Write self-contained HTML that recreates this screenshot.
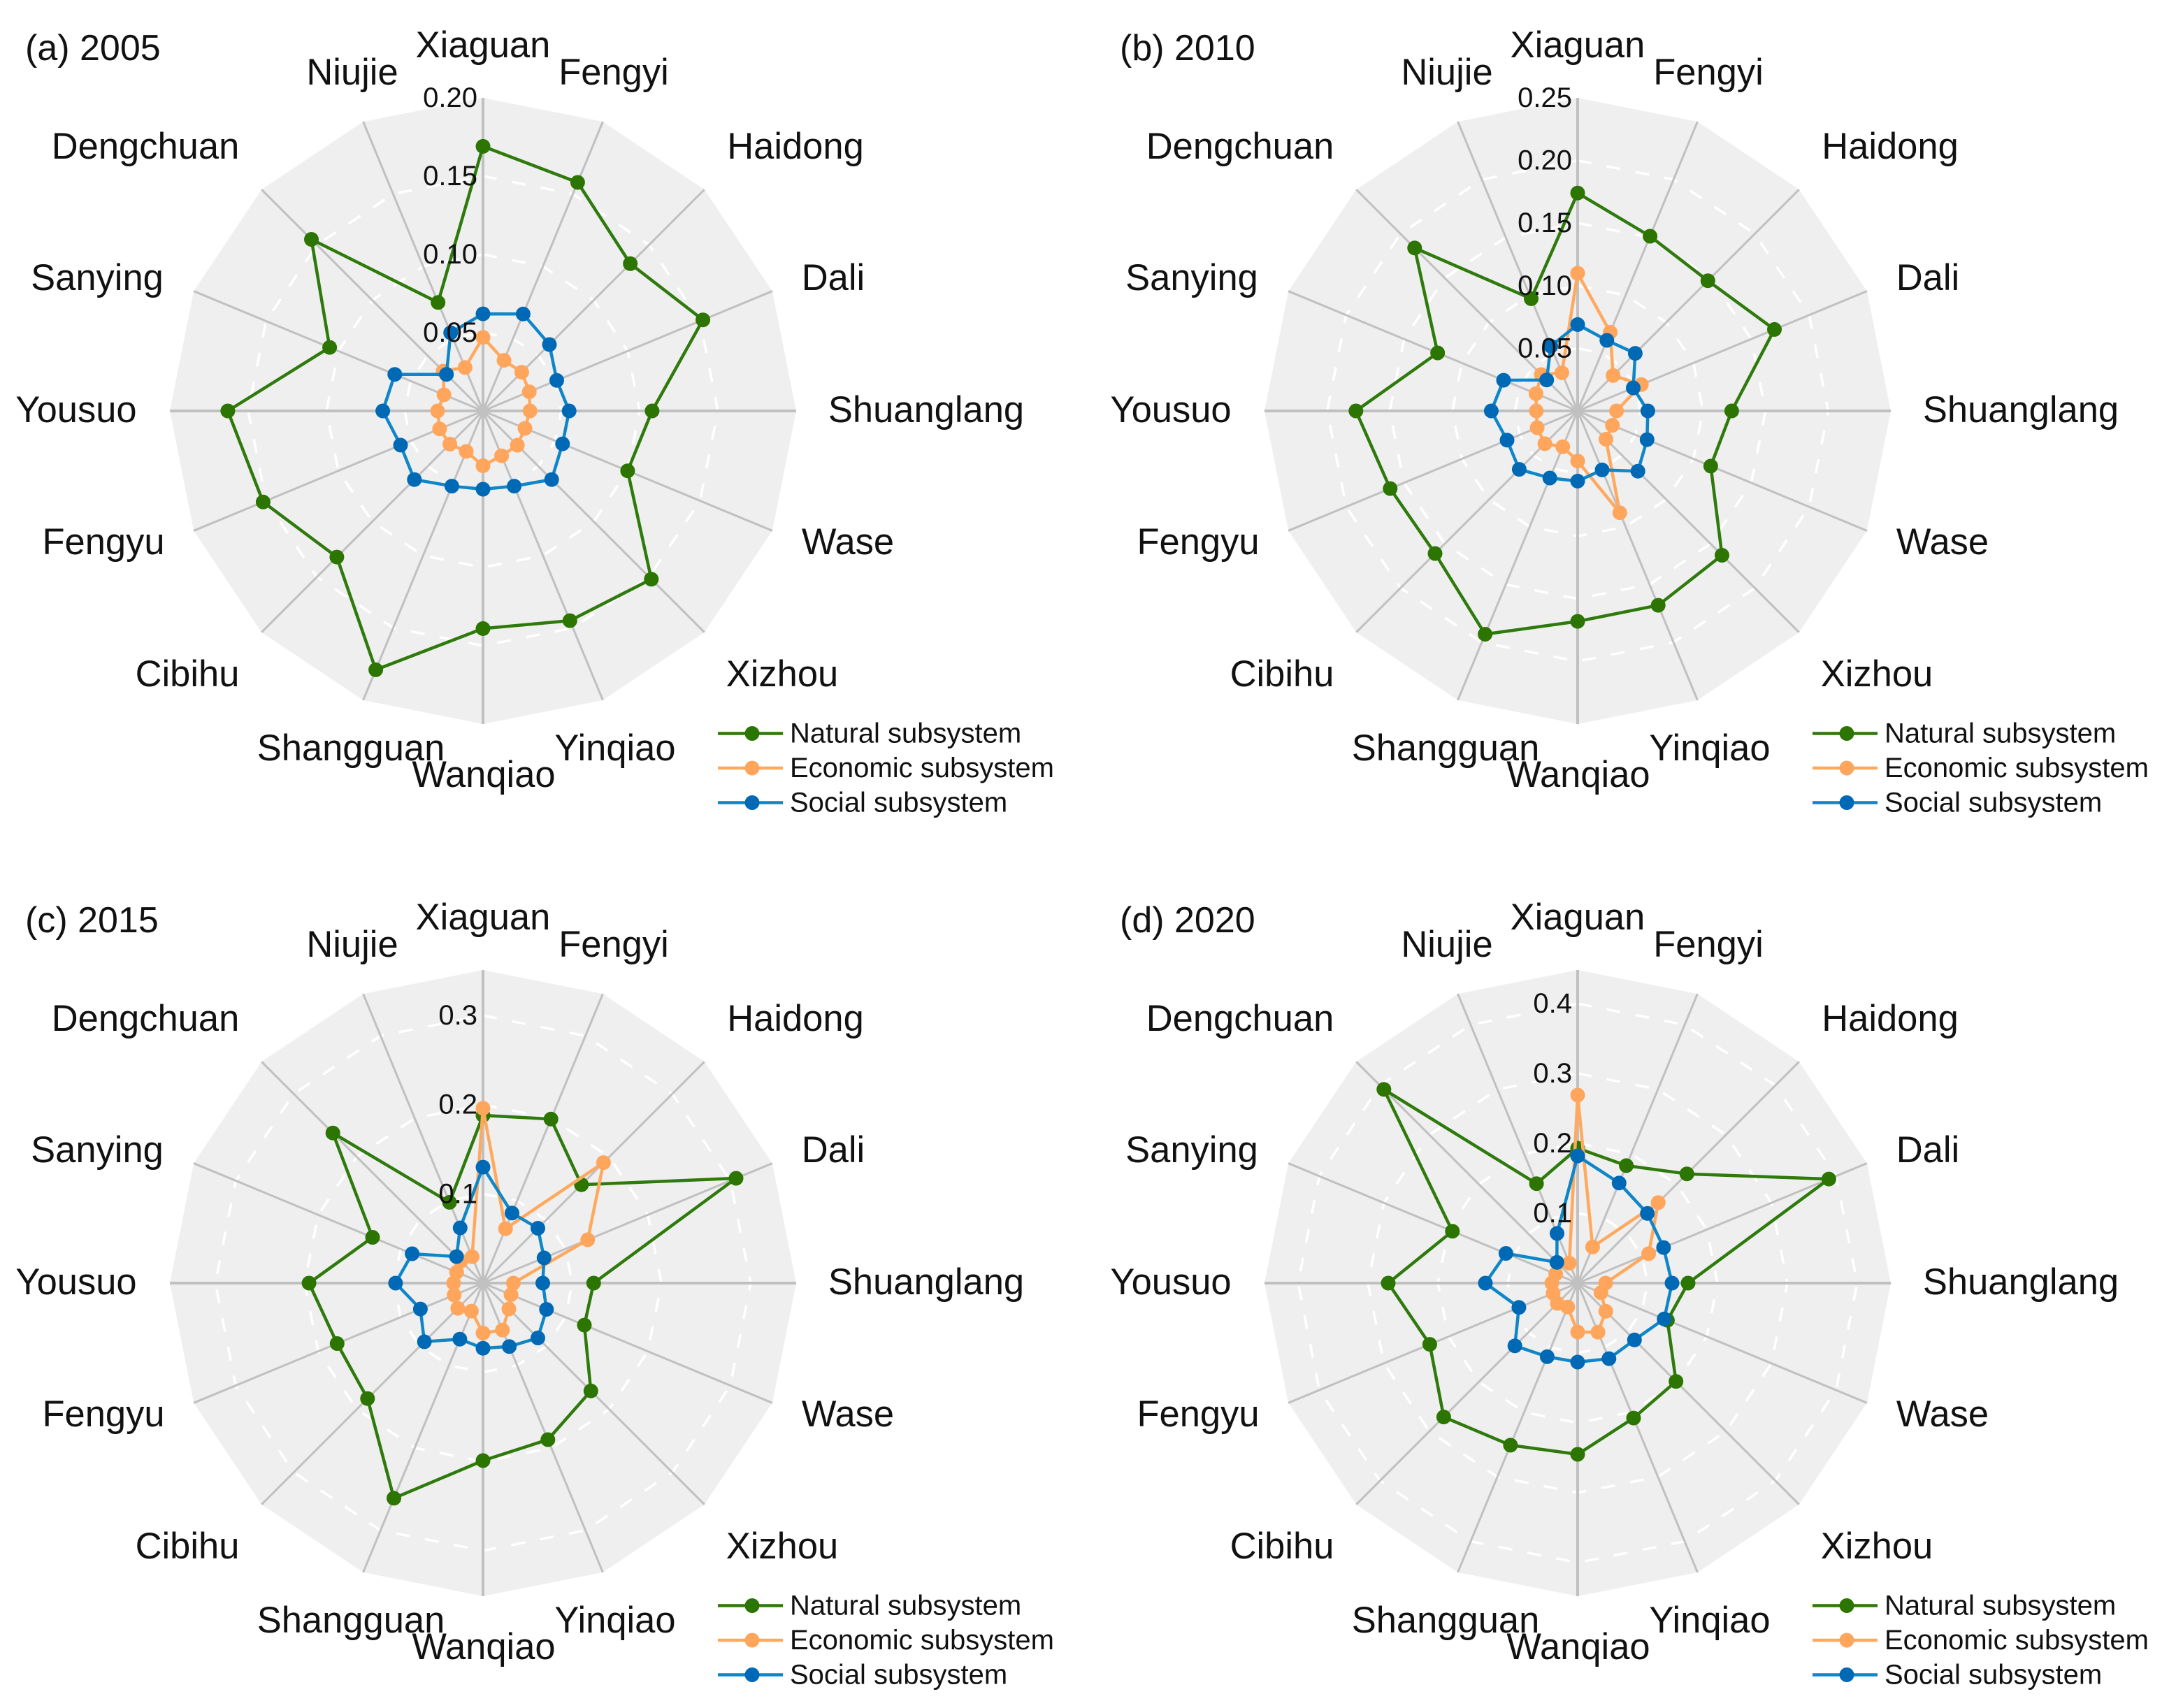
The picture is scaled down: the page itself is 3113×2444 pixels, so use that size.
<!DOCTYPE html>
<html lang="en">
<head>
<meta charset="utf-8">
<title>Subsystem radar charts 2005–2020</title>
<style>
html,body{margin:0;padding:0;background:#fff}
svg{display:block}
text{font-family:"Liberation Sans",Arial,sans-serif;fill:#111}
</style>
</head>
<body>
<svg id="chart" xmlns="http://www.w3.org/2000/svg" width="3113" height="2444" viewBox="0 0 3113 2444"></svg>
<script>
const towns = ["Xiaguan","Fengyi","Haidong","Dali","Shuanglang","Wase","Xizhou","Yinqiao","Wanqiao","Shangguan","Cibihu","Fengyu","Yousuo","Sanying","Dengchuan","Niujie"];
const seriesNames = ["Natural subsystem","Economic subsystem","Social subsystem"];

const natural2005 = [.169,.158,.133,.152,.108,.100,.152,.145,.139,.179,.132,.152,.163,.106,.155,.075];
const economic2005 = [.047,.035,.035,.032,.030,.029,.031,.031,.035,.028,.030,.030,.029,.027,.036,.030];
const social2005 = [.062,.067,.060,.051,.055,.055,.062,.052,.050,.052,.062,.057,.064,.061,.033,.054];
const ticks2005 = [0.05,0.10,0.15,0.20];
const tickText2005 = ["0.05","0.10","0.15","0.20"];
const max2005 = 0.20;

const natural2010 = [.174,.151,.147,.170,.123,.115,.163,.168,.168,.193,.161,.162,.177,.121,.184,.097];
const economic2010 = [.110,.068,.040,.055,.031,.030,.032,.088,.040,.031,.037,.035,.033,.036,.041,.033];
const social2010 = [.069,.061,.065,.048,.056,.060,.068,.051,.056,.058,.066,.061,.069,.064,.035,.056];
const ticks2010 = [0.05,0.10,0.15,0.20,0.25];
const tickText2010 = ["0.05","0.10","0.15","0.20","0.25"];
const max2010 = 0.25;

const natural2015 = [.188,.199,.156,.307,.124,.123,.171,.190,.199,.261,.183,.177,.195,.134,.238,.098];
const economic2015 = [.196,.066,.191,.127,.034,.034,.041,.057,.056,.034,.040,.035,.033,.032,.035,.032];
const social2015 = [.130,.085,.087,.074,.067,.077,.087,.077,.073,.068,.093,.076,.098,.086,.042,.067];
const ticks2015 = [0.1,0.2,0.3];
const tickText2015 = ["0.1","0.2","0.3"];
const max2015 = 0.351;

const natural2020 = [.193,.182,.221,.389,.158,.139,.199,.209,.245,.251,.271,.229,.271,.194,.392,.154];
const economic2020 = [.269,.056,.163,.110,.040,.036,.057,.076,.070,.037,.041,.038,.037,.034,.041,.031];
const social2020 = [.182,.155,.141,.133,.135,.134,.115,.117,.113,.114,.127,.091,.132,.111,.042,.077];
const ticks2020 = [0.1,0.2,0.3,0.4];
const tickText2020 = ["0.1","0.2","0.3","0.4"];
const max2020 = 0.448;

/* layout, not data */
const RADIUS = 448;
const labelDx = [0,187,447,501,634,522,428,189,1,-189,-423,-543,-582,-552,-483,-187];
const labelDy = [-506,-467,-361,-173,16,205,394,500,538,500,394,205,16,-173,-361,-467];
const lineColors = ["#2f7a0c","#ffa95f","#0f86c8"];
const dotColors = ["#2b7500","#ffa55c","#0069b5"];

const panels = [
  {id:"a", title:"(a) 2005", cx:691,  cy:588,  max:max2005, ticks:ticks2005, tickText:tickText2005, series:[natural2005,economic2005,social2005]},
  {id:"b", title:"(b) 2010", cx:2257, cy:588,  max:max2010, ticks:ticks2010, tickText:tickText2010, series:[natural2010,economic2010,social2010]},
  {id:"c", title:"(c) 2015", cx:691,  cy:1836, max:max2015, ticks:ticks2015, tickText:tickText2015, series:[natural2015,economic2015,social2015]},
  {id:"d", title:"(d) 2020", cx:2257, cy:1836, max:max2020, ticks:ticks2020, tickText:tickText2020, series:[natural2020,economic2020,social2020]}
];

const svg = document.getElementById("chart");
const NS = "http://www.w3.org/2000/svg";

function mk(parent, tag, props, txt) {
  const el = document.createElementNS(NS, tag);
  for (const k in props) el.setAttribute(k, props[k]);
  if (txt !== undefined) el.textContent = txt;
  parent.appendChild(el);
  return el;
}
function angle(i) { return (i / towns.length) * 2 * Math.PI; }
function radial(value, max) { return (value / max) * RADIUS; }
function px(p, i, r) { return p.cx + r * Math.sin(angle(i)); }
function py(p, i, r) { return p.cy - r * Math.cos(angle(i)); }
function ringPoints(p, r) {
  return towns.map((_, i) => px(p, i, r).toFixed(1) + "," + py(p, i, r).toFixed(1)).join(" ");
}
function slug(s) { return s.toLowerCase().replace(/\s+/g, "-"); }

panels.forEach(p => {
  const g = mk(svg, "g", {});
  
  

  const bg = mk(g, "polygon", {points: ringPoints(p, RADIUS), fill: "#efefef"});
  
  

  p.ticks.forEach(t => {
    if (t >= p.max) return;
    const ring = mk(g, "polygon", {points: ringPoints(p, radial(t, p.max)), fill: "none", stroke: "#ffffff", "stroke-width": 3.5, "stroke-dasharray": "20 22"});
    
    
  });

  towns.forEach((town, i) => {
    const spoke = mk(g, "line", {x1: p.cx, y1: p.cy, x2: px(p, i, RADIUS), y2: py(p, i, RADIUS), stroke: "#c0c0c0", "stroke-width": i % 4 === 0 ? 4 : 3});
    
    
  });

  p.series.forEach((vals, s) => {
    const sg = mk(g, "g", {});
    
    
    const pts = vals.map((v, i) => px(p, i, radial(v, p.max)).toFixed(1) + "," + py(p, i, radial(v, p.max)).toFixed(1)).join(" ");
    const poly = mk(sg, "polygon", {points: pts, fill: "none", stroke: lineColors[s], "stroke-width": 4.5, "stroke-linejoin": "round"});
    
    
    vals.forEach((v, i) => {
      const r = radial(v, p.max);
      const dot = mk(sg, "circle", {cx: px(p, i, r).toFixed(1), cy: py(p, i, r).toFixed(1), r: 10.5, fill: dotColors[s]});
      
      
    });
  });

  p.ticks.forEach((t, k) => {
    const tick = mk(g, "text", {x: p.cx - 8, y: p.cy - radial(t, p.max) + 13, "text-anchor": "end", "font-size": 40}, p.tickText[k]);
    
    
  });

  towns.forEach((town, i) => {
    const lab = mk(g, "text", {x: p.cx + labelDx[i], y: p.cy + labelDy[i], "text-anchor": "middle", "font-size": 52.5}, town);
    
    
  });

  const title = mk(g, "text", {x: p.cx - 655, y: p.cy - 502, "font-size": 52}, p.title);
  
  

  const legend = mk(g, "g", {});
  
  
  seriesNames.forEach((name, s) => {
    const y = p.cy + 461.5 + s * 49.5;
    const entry = mk(legend, "g", {});
    
    
    mk(entry, "line", {x1: p.cx + 336, y1: y, x2: p.cx + 429, y2: y, stroke: lineColors[s], "stroke-width": 4.5});
    mk(entry, "circle", {cx: p.cx + 385, cy: y, r: 10.5, fill: dotColors[s]});
    mk(entry, "text", {x: p.cx + 439, y: y + 13, "font-size": 40}, name);
  });
});
</script>
</body>
</html>
